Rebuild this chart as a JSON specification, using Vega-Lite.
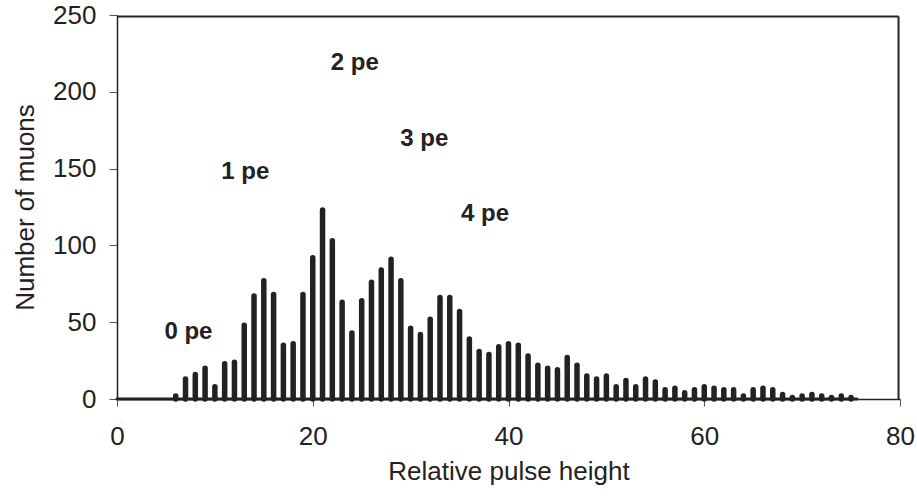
{
  "$schema": "https://vega.github.io/schema/vega-lite/v6.json",
  "width": 783,
  "height": 384,
  "autosize": {"type": "none"},
  "padding": {"left": 117, "top": 15, "right": 17, "bottom": 100},
  "background": "white",
  "config": {
    "view": {"stroke": null},
    "axis": {
      "grid": false,
      "labelFlush": false,
      "domainColor": "#222",
      "domainWidth": 1.5,
      "tickColor": "#555",
      "labelFont": "Liberation Sans",
      "labelFontSize": 26,
      "labelColor": "#222",
      "titleFont": "Liberation Sans",
      "titleFontSize": 26,
      "titleFontWeight": "normal",
      "titleColor": "#222"
    }
  },
  "datasets": {
    "hist": [
      {"x": 6, "n": 2}, {"x": 7, "n": 13}, {"x": 8, "n": 16}, {"x": 9, "n": 20}, {"x": 10, "n": 8},
      {"x": 11, "n": 23}, {"x": 12, "n": 24}, {"x": 13, "n": 48}, {"x": 14, "n": 67}, {"x": 15, "n": 77},
      {"x": 16, "n": 68}, {"x": 17, "n": 35}, {"x": 18, "n": 36}, {"x": 19, "n": 68}, {"x": 20, "n": 92},
      {"x": 21, "n": 123}, {"x": 22, "n": 103}, {"x": 23, "n": 63}, {"x": 24, "n": 43}, {"x": 25, "n": 64},
      {"x": 26, "n": 76}, {"x": 27, "n": 84}, {"x": 28, "n": 91}, {"x": 29, "n": 77}, {"x": 30, "n": 46},
      {"x": 31, "n": 42}, {"x": 32, "n": 52}, {"x": 33, "n": 66}, {"x": 34, "n": 66}, {"x": 35, "n": 57},
      {"x": 36, "n": 39}, {"x": 37, "n": 31}, {"x": 38, "n": 29}, {"x": 39, "n": 34}, {"x": 40, "n": 36},
      {"x": 41, "n": 35}, {"x": 42, "n": 28}, {"x": 43, "n": 22}, {"x": 44, "n": 20}, {"x": 45, "n": 19},
      {"x": 46, "n": 27}, {"x": 47, "n": 22}, {"x": 48, "n": 15}, {"x": 49, "n": 13}, {"x": 50, "n": 15},
      {"x": 51, "n": 8}, {"x": 52, "n": 12}, {"x": 53, "n": 8}, {"x": 54, "n": 13}, {"x": 55, "n": 11},
      {"x": 56, "n": 6}, {"x": 57, "n": 7}, {"x": 58, "n": 4}, {"x": 59, "n": 6}, {"x": 60, "n": 8},
      {"x": 61, "n": 7}, {"x": 62, "n": 6}, {"x": 63, "n": 6}, {"x": 64, "n": 2}, {"x": 65, "n": 6},
      {"x": 66, "n": 7}, {"x": 67, "n": 6}, {"x": 68, "n": 3}, {"x": 69, "n": 1}, {"x": 70, "n": 2},
      {"x": 71, "n": 3}, {"x": 72, "n": 2}, {"x": 73, "n": 1}, {"x": 74, "n": 2}, {"x": 75, "n": 1}
    ],
    "base": [{"x0": 0, "x1": 75.6, "y": 0}],
    "frame": [
      {"x0": 0, "x1": 79.85, "y0": 249, "y1": 249},
      {"x0": 79.85, "x1": 79.85, "y0": 0, "y1": 249}
    ],
    "labels": [
      {"x": 7.3, "y": 43.5, "t": "0 pe"},
      {"x": 13.1, "y": 147.8, "t": "1 pe"},
      {"x": 24.3, "y": 218.8, "t": "2 pe"},
      {"x": 31.4, "y": 169.3, "t": "3 pe"},
      {"x": 37.6, "y": 120.4, "t": "4 pe"}
    ]
  },
  "layer": [
    {
      "data": {"name": "base"},
      "mark": {"type": "rule", "color": "#222", "strokeWidth": 3, "strokeCap": "round"},
      "encoding": {
        "x": {"field": "x0", "type": "quantitative", "scale": {"domain": [0, 80], "nice": false},
          "axis": {"values": [0, 20, 40, 60, 80], "tickSize": 7, "labelPadding": 17, "title": "Relative pulse height", "titlePadding": 9}},
        "x2": {"field": "x1"},
        "y": {"field": "y", "type": "quantitative", "scale": {"domain": [0, 250], "nice": false},
          "axis": {"values": [0, 50, 100, 150, 200, 250], "tickSize": 8, "labelPadding": 13, "title": "Number of muons", "titlePadding": 14}}
      }
    },
    {
      "data": {"name": "frame"},
      "mark": {"type": "rule", "color": "#222", "strokeWidth": 2},
      "encoding": {
        "x": {"field": "x0", "type": "quantitative"},
        "x2": {"field": "x1"},
        "y": {"field": "y0", "type": "quantitative"},
        "y2": {"field": "y1"}
      }
    },
    {
      "data": {"name": "hist"},
      "mark": {"type": "rule", "color": "#222", "strokeWidth": 5.5, "strokeCap": "round"},
      "encoding": {
        "x": {"field": "x", "type": "quantitative"},
        "y": {"field": "n", "type": "quantitative"},
        "y2": {"datum": 0}
      }
    },
    {
      "data": {"name": "labels"},
      "mark": {"type": "text", "font": "Liberation Sans", "fontSize": 24, "fontWeight": "bold", "color": "#222", "align": "center", "baseline": "middle"},
      "encoding": {
        "x": {"field": "x", "type": "quantitative"},
        "y": {"field": "y", "type": "quantitative"},
        "text": {"field": "t"}
      }
    }
  ]
}
